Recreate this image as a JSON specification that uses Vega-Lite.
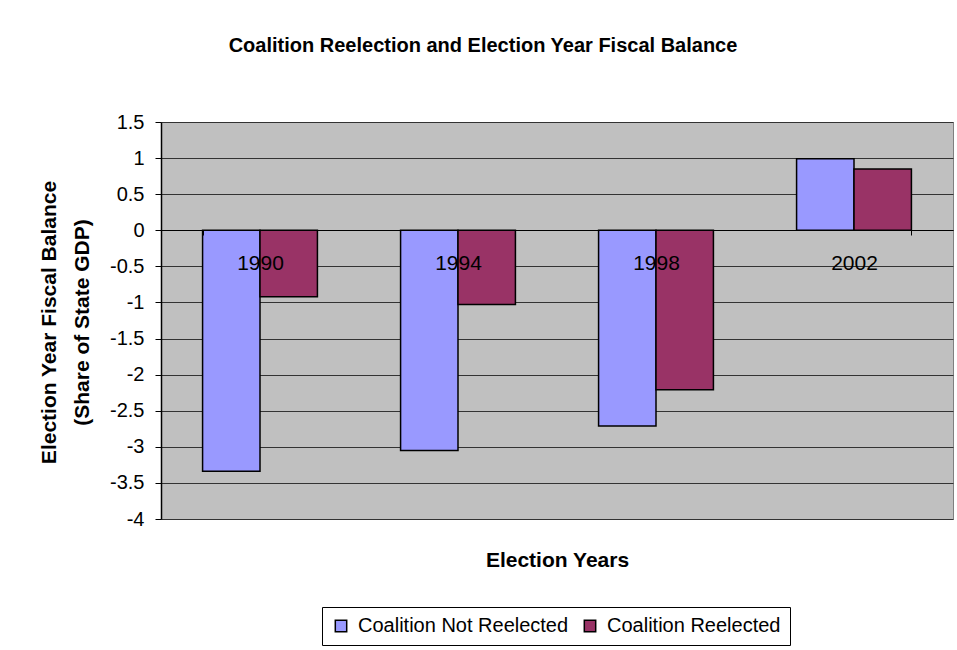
{
  "$schema": "https://vega.github.io/schema/vega-lite/v6.json",
  "width": 792,
  "height": 397,
  "autosize": {"type": "none"},
  "padding": {"left": 161, "top": 122, "right": 4, "bottom": 131},
  "background": "white",
  "title": {
    "text": "Coalition Reelection and Election Year Fiscal Balance",
    "font": "Liberation Sans",
    "fontSize": 20,
    "fontWeight": "bold",
    "color": "black",
    "anchor": "middle",
    "dx": -74,
    "offset": 56
  },
  "data": {
    "values": [
      {"year": "1990", "group": "Coalition Not Reelected", "value": -3.34},
      {"year": "1990", "group": "Coalition Reelected", "value": -0.92},
      {"year": "1994", "group": "Coalition Not Reelected", "value": -3.05},
      {"year": "1994", "group": "Coalition Reelected", "value": -1.03},
      {"year": "1998", "group": "Coalition Not Reelected", "value": -2.71},
      {"year": "1998", "group": "Coalition Reelected", "value": -2.21},
      {"year": "2002", "group": "Coalition Not Reelected", "value": 0.99},
      {"year": "2002", "group": "Coalition Reelected", "value": 0.85}
    ]
  },
  "mark": {"type": "bar", "stroke": "black", "strokeWidth": 1.5},
  "encoding": {
    "x": {
      "field": "year",
      "type": "nominal",
      "scale": {"paddingInner": 0.42, "paddingOuter": 0.21},
      "axis": {
        "title": "Election Years",
        "orient": "bottom",
        "offset": -289,
        "labelAngle": 0,
        "labelFont": "Liberation Sans",
        "labelFontSize": 21,
        "labelColor": "black",
        "labelPadding": 17,
        "ticks": true,
        "tickBand": "extent",
        "tickSize": 5,
        "tickColor": "black",
        "domainColor": "black",
        "domainWidth": 1,
        "grid": false,
        "zindex": 1,
        "titleFont": "Liberation Sans",
        "titleFontSize": 21,
        "titleFontWeight": "bold",
        "titleColor": "black",
        "titleBaseline": "middle",
        "titleY": 330
      }
    },
    "xOffset": {
      "field": "group",
      "type": "nominal",
      "sort": ["Coalition Not Reelected", "Coalition Reelected"],
      "scale": {"paddingInner": 0, "paddingOuter": 0}
    },
    "y": {
      "field": "value",
      "type": "quantitative",
      "stack": null,
      "scale": {"domain": [-4, 1.5], "nice": false},
      "axis": {
        "title": ["Election Year Fiscal Balance", "(Share of State GDP)"],
        "values": [-4, -3.5, -3, -2.5, -2, -1.5, -1, -0.5, 0, 0.5, 1, 1.5],
        "labelExpr": "'' + datum.value",
        "labelFont": "Liberation Sans",
        "labelFontSize": 20,
        "labelColor": "black",
        "labelPadding": 11,
        "tickSize": 6,
        "tickColor": "black",
        "domainColor": "black",
        "domainWidth": 1.5,
        "grid": true,
        "gridColor": "#333333",
        "gridWidth": 1,
        "titleFont": "Liberation Sans",
        "titleFontSize": 21,
        "titleFontWeight": "bold",
        "titleColor": "black",
        "titleLineHeight": 33,
        "titleAngle": 270,
        "titleAlign": "center",
        "titleBaseline": "bottom",
        "titleX": -102,
        "titleY": 200
      }
    },
    "color": {
      "field": "group",
      "type": "nominal",
      "scale": {
        "domain": ["Coalition Not Reelected", "Coalition Reelected"],
        "range": ["#9999FF", "#993366"]
      },
      "legend": {
        "title": null,
        "orient": "none",
        "legendX": 161,
        "legendY": 485,
        "direction": "horizontal",
        "strokeColor": "black",
        "fillColor": "white",
        "padding": 9,
        "symbolType": "square",
        "symbolSize": 130,
        "symbolStrokeColor": "black",
        "symbolStrokeWidth": 1.5,
        "labelFont": "Liberation Sans",
        "labelFontSize": 20,
        "labelColor": "black",
        "labelLimit": 400,
        "labelOffset": 7,
        "columnPadding": 11
      }
    }
  },
  "config": {
    "view": {"fill": "#C0C0C0", "stroke": "#808080", "strokeWidth": 1}
  }
}
